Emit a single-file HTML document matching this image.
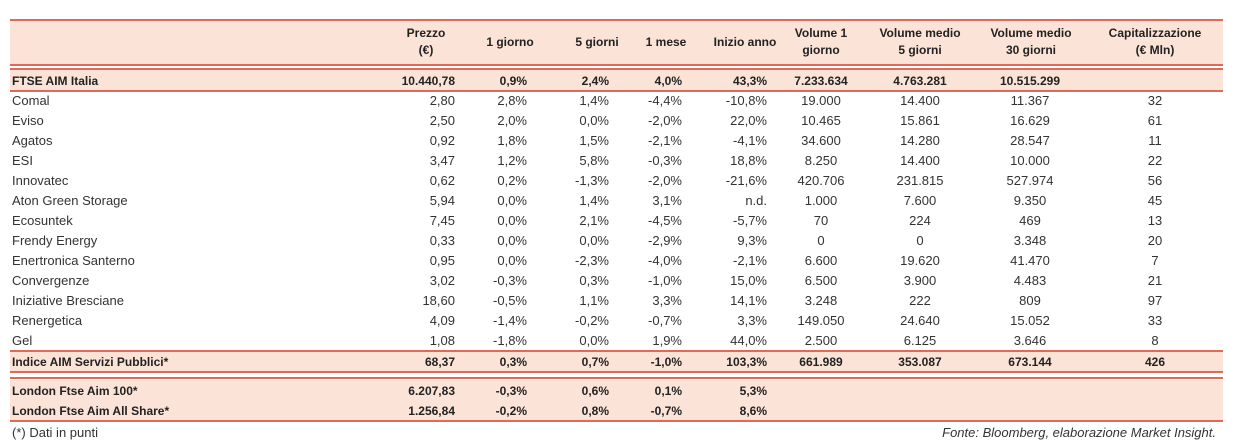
<!DOCTYPE html>
<html><head><meta charset="utf-8">
<style>
body{margin:0;width:1239px;height:443px;background:#fff;font-family:"Liberation Sans","DejaVu Sans",sans-serif;color:#333;position:relative;overflow:hidden}
.bg{position:absolute;left:10px;width:1213px;background:#fbe4d7}
.ln{position:absolute;left:10px;width:1213px;height:2px;background:#e06a5a}
.row{position:absolute;left:0;width:1239px;height:20px;font-size:13px;line-height:20px}
.row span{position:absolute;top:0;white-space:nowrap}
.b{font-weight:bold;font-size:12px;color:#222}
.n{left:12px}
.c1{left:355px;width:100px;text-align:right}
.c2{left:427px;width:100px;text-align:right}
.c3{left:509px;width:100px;text-align:right}
.c4{left:582px;width:100px;text-align:right}
.c5{left:667px;width:100px;text-align:right}
.c6{left:761px;width:120px;text-align:center}
.c7{left:860px;width:120px;text-align:center}
.c8{left:970px;width:120px;text-align:center}
.c9{left:1095px;width:120px;text-align:center}
.hd{position:absolute;font-weight:bold;font-size:12px;color:#222;text-align:center;line-height:17px;width:130px}
.foot{position:absolute;top:424px;font-size:13px;line-height:18px}
</style></head><body>
<div class="bg" style="top:21px;height:43px"></div>
<div class="bg" style="top:70px;height:20px"></div>
<div class="bg" style="top:352px;height:19px"></div>
<div class="bg" style="top:380px;height:40px"></div>
<div class="ln" style="top:19px"></div>
<div class="ln" style="top:64px"></div>
<div class="ln" style="top:68px"></div>
<div class="ln" style="top:90px"></div>
<div class="ln" style="top:350px"></div>
<div class="ln" style="top:371px"></div>
<div class="ln" style="top:377px"></div>
<div class="ln" style="top:420px"></div>

<div class="hd" style="left:361px;top:25px">Prezzo<br>(€)</div>
<div class="hd" style="left:445px;top:34px">1 giorno</div>
<div class="hd" style="left:532px;top:34px">5 giorni</div>
<div class="hd" style="left:601px;top:34px">1 mese</div>
<div class="hd" style="left:680px;top:34px">Inizio anno</div>
<div class="hd" style="left:756px;top:25px">Volume 1<br>giorno</div>
<div class="hd" style="left:855px;top:25px">Volume medio<br>5 giorni</div>
<div class="hd" style="left:966px;top:25px">Volume medio<br>30 giorni</div>
<div class="hd" style="left:1090px;top:25px">Capitalizzazione<br>(€ Mln)</div>

<div class="row b" style="top:71px"><span class="n">FTSE AIM Italia</span><span class="c1">10.440,78</span><span class="c2">0,9%</span><span class="c3">2,4%</span><span class="c4">4,0%</span><span class="c5">43,3%</span><span class="c6">7.233.634</span><span class="c7">4.763.281</span><span class="c8">10.515.299</span></div>
<div class="row" style="top:91px"><span class="n">Comal</span><span class="c1">2,80</span><span class="c2">2,8%</span><span class="c3">1,4%</span><span class="c4">-4,4%</span><span class="c5">-10,8%</span><span class="c6">19.000</span><span class="c7">14.400</span><span class="c8">11.367</span><span class="c9">32</span></div>
<div class="row" style="top:111px"><span class="n">Eviso</span><span class="c1">2,50</span><span class="c2">2,0%</span><span class="c3">0,0%</span><span class="c4">-2,0%</span><span class="c5">22,0%</span><span class="c6">10.465</span><span class="c7">15.861</span><span class="c8">16.629</span><span class="c9">61</span></div>
<div class="row" style="top:131px"><span class="n">Agatos</span><span class="c1">0,92</span><span class="c2">1,8%</span><span class="c3">1,5%</span><span class="c4">-2,1%</span><span class="c5">-4,1%</span><span class="c6">34.600</span><span class="c7">14.280</span><span class="c8">28.547</span><span class="c9">11</span></div>
<div class="row" style="top:151px"><span class="n">ESI</span><span class="c1">3,47</span><span class="c2">1,2%</span><span class="c3">5,8%</span><span class="c4">-0,3%</span><span class="c5">18,8%</span><span class="c6">8.250</span><span class="c7">14.400</span><span class="c8">10.000</span><span class="c9">22</span></div>
<div class="row" style="top:171px"><span class="n">Innovatec</span><span class="c1">0,62</span><span class="c2">0,2%</span><span class="c3">-1,3%</span><span class="c4">-2,0%</span><span class="c5">-21,6%</span><span class="c6">420.706</span><span class="c7">231.815</span><span class="c8">527.974</span><span class="c9">56</span></div>
<div class="row" style="top:191px"><span class="n">Aton Green Storage</span><span class="c1">5,94</span><span class="c2">0,0%</span><span class="c3">1,4%</span><span class="c4">3,1%</span><span class="c5">n.d.</span><span class="c6">1.000</span><span class="c7">7.600</span><span class="c8">9.350</span><span class="c9">45</span></div>
<div class="row" style="top:211px"><span class="n">Ecosuntek</span><span class="c1">7,45</span><span class="c2">0,0%</span><span class="c3">2,1%</span><span class="c4">-4,5%</span><span class="c5">-5,7%</span><span class="c6">70</span><span class="c7">224</span><span class="c8">469</span><span class="c9">13</span></div>
<div class="row" style="top:231px"><span class="n">Frendy Energy</span><span class="c1">0,33</span><span class="c2">0,0%</span><span class="c3">0,0%</span><span class="c4">-2,9%</span><span class="c5">9,3%</span><span class="c6">0</span><span class="c7">0</span><span class="c8">3.348</span><span class="c9">20</span></div>
<div class="row" style="top:251px"><span class="n">Enertronica Santerno</span><span class="c1">0,95</span><span class="c2">0,0%</span><span class="c3">-2,3%</span><span class="c4">-4,0%</span><span class="c5">-2,1%</span><span class="c6">6.600</span><span class="c7">19.620</span><span class="c8">41.470</span><span class="c9">7</span></div>
<div class="row" style="top:271px"><span class="n">Convergenze</span><span class="c1">3,02</span><span class="c2">-0,3%</span><span class="c3">0,3%</span><span class="c4">-1,0%</span><span class="c5">15,0%</span><span class="c6">6.500</span><span class="c7">3.900</span><span class="c8">4.483</span><span class="c9">21</span></div>
<div class="row" style="top:291px"><span class="n">Iniziative Bresciane</span><span class="c1">18,60</span><span class="c2">-0,5%</span><span class="c3">1,1%</span><span class="c4">3,3%</span><span class="c5">14,1%</span><span class="c6">3.248</span><span class="c7">222</span><span class="c8">809</span><span class="c9">97</span></div>
<div class="row" style="top:311px"><span class="n">Renergetica</span><span class="c1">4,09</span><span class="c2">-1,4%</span><span class="c3">-0,2%</span><span class="c4">-0,7%</span><span class="c5">3,3%</span><span class="c6">149.050</span><span class="c7">24.640</span><span class="c8">15.052</span><span class="c9">33</span></div>
<div class="row" style="top:331px"><span class="n">Gel</span><span class="c1">1,08</span><span class="c2">-1,8%</span><span class="c3">0,0%</span><span class="c4">1,9%</span><span class="c5">44,0%</span><span class="c6">2.500</span><span class="c7">6.125</span><span class="c8">3.646</span><span class="c9">8</span></div>
<div class="row b" style="top:352px"><span class="n">Indice AIM Servizi Pubblici*</span><span class="c1">68,37</span><span class="c2">0,3%</span><span class="c3">0,7%</span><span class="c4">-1,0%</span><span class="c5">103,3%</span><span class="c6">661.989</span><span class="c7">353.087</span><span class="c8">673.144</span><span class="c9">426</span></div>
<div class="row b" style="top:381px"><span class="n">London Ftse Aim 100*</span><span class="c1">6.207,83</span><span class="c2">-0,3%</span><span class="c3">0,6%</span><span class="c4">0,1%</span><span class="c5">5,3%</span></div>
<div class="row b" style="top:401px"><span class="n">London Ftse Aim All Share*</span><span class="c1">1.256,84</span><span class="c2">-0,2%</span><span class="c3">0,8%</span><span class="c4">-0,7%</span><span class="c5">8,6%</span></div>

<div class="foot" style="left:12px">(*) Dati in punti</div>
<div class="foot" style="right:23px;font-style:italic">Fonte: Bloomberg, elaborazione Market Insight.</div>
</body></html>
